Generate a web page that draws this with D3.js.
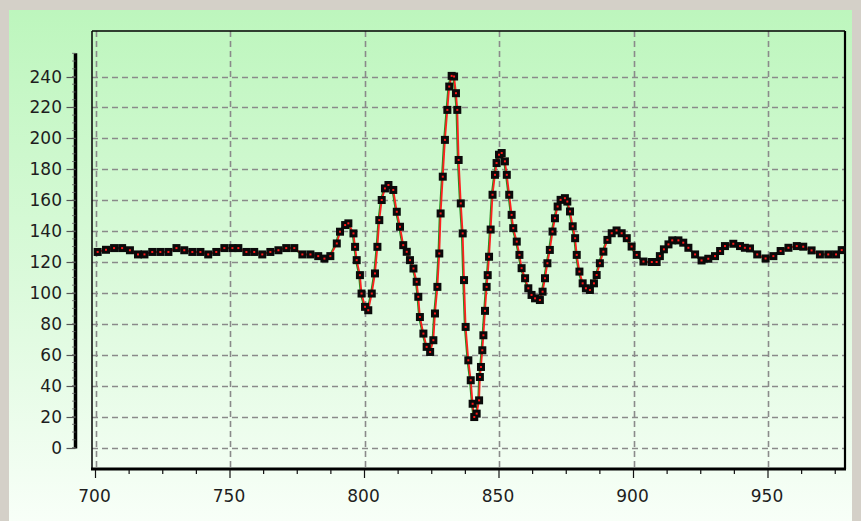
<!DOCTYPE html>
<html>
<head>
<meta charset="utf-8">
<script src="https://cdn.jsdelivr.net/npm/d3@7"></script>
<style>
  body { margin: 0; background: #d4d0c8; }
  svg { display: block; }
  .tick-label { font-family: "DejaVu Sans", Verdana, sans-serif; font-size: 17px; fill: #1e1e1e; }
</style>
</head>
<body>
<script>
(function () {

  // samples
  let xs = [
    700.8, 703.9, 706.9, 709.9, 712.8, 715.8, 718.2, 721.1, 724.1, 727.1,
    730.1, 733.0, 736.0, 739.0, 741.9, 744.9, 747.9, 750.9, 753.1, 756.1,
    759.0, 762.0, 765.0, 768.0, 770.9, 773.9, 776.9, 779.9, 782.8, 785.1,
    787.3, 789.7, 790.9, 792.8, 794.0, 795.9, 796.5, 797.1, 798.3, 798.9,
    800.2, 801.4, 802.7, 803.9, 804.8, 805.5, 806.4, 807.6, 808.9, 810.7,
    812.0, 813.2, 814.4, 815.7, 816.9, 818.2, 819.4, 820.0, 820.6, 821.9,
    823.1, 824.4, 825.6, 826.2, 827.1, 827.8, 828.3, 829.1, 829.9, 830.8,
    831.5, 832.4, 833.3, 834.0, 834.5, 835.0, 835.8, 836.5, 837.0, 837.6,
    838.6, 839.5, 840.2, 840.8, 841.7, 842.6, 842.9, 843.3, 843.8, 844.2,
    844.8, 845.4, 845.8, 846.3, 846.9, 847.6, 848.5, 849.1, 850.0, 851.0,
    852.2, 852.9, 853.8, 854.7, 855.3, 856.6, 857.6, 858.4, 859.7, 860.9,
    862.1, 863.4, 865.2, 866.2, 867.1, 868.0, 868.9, 869.9, 870.8, 871.8,
    872.9, 874.5, 875.4, 876.4, 877.4, 878.3, 878.9, 879.9, 881.1, 882.3,
    883.8, 885.3, 886.3, 887.5, 888.8, 890.3, 891.9, 893.7, 895.6, 897.5,
    899.3, 901.2, 903.7, 906.8, 908.6, 909.8, 911.3, 913.0, 914.4, 916.7,
    918.5, 920.4, 922.9, 925.3, 927.8, 930.3, 932.2, 934.0, 937.1, 939.6,
    941.4, 943.3, 946.0, 949.1, 952.0, 954.7, 957.6, 960.7, 963.1, 966.2,
    969.3, 972.4, 975.3, 977.4
  ];

  let ys = [
    126.5, 127.9, 129.0, 129.0, 127.6, 124.9, 124.9, 126.5, 126.5, 126.5,
    129.0, 127.6, 126.5, 126.5, 124.9, 126.5, 129.0, 129.0, 129.0, 126.5,
    126.5, 124.9, 126.5, 127.6, 129.0, 129.0, 124.9, 124.9, 123.8, 122.2,
    123.8, 132.0, 139.6, 143.9, 145.0, 138.5, 129.8, 121.2, 111.5, 99.6,
    91.0, 88.8, 99.6, 112.6, 129.8, 147.1, 160.1, 167.6, 169.8, 166.6,
    152.5, 142.8, 130.9, 126.6, 121.2, 115.8, 107.2, 97.5, 84.4, 73.7,
    65.1, 61.8, 69.4, 86.7, 103.9, 125.5, 151.4, 175.2, 199.0, 218.4,
    233.5, 240.4, 240.0, 229.2, 218.4, 186.0, 157.9, 138.5, 108.3, 78.0,
    56.4, 43.5, 28.3, 19.7, 21.9, 30.5, 45.6, 52.1, 62.9, 72.6,
    88.4, 103.9, 111.5, 123.4, 141.0, 163.5, 176.4, 184.0, 189.4, 190.5,
    185.1, 176.4, 163.5, 150.5, 141.9, 133.2, 124.6, 116.0, 109.5, 103.0,
    98.7, 96.5, 95.4, 100.8, 109.5, 119.2, 127.8, 139.7, 148.3, 155.9,
    160.2, 161.3, 159.1, 152.7, 143.1, 135.4, 124.6, 113.8, 106.2, 103.0,
    101.9, 106.2, 111.6, 119.2, 126.7, 134.3, 138.6, 140.4, 138.6, 135.4,
    130.0, 124.6, 120.3, 120.0, 120.0, 123.8, 128.2, 131.4, 134.0, 134.0,
    132.5, 129.2, 124.9, 121.0, 122.1, 123.8, 127.1, 130.3, 131.8, 130.3,
    129.2, 128.8, 124.9, 122.3, 123.8, 127.1, 129.2, 130.3, 129.9, 127.5,
    124.9, 124.9, 124.9, 127.7
  ];

  let xTicks = [700, 750, 800, 850, 900, 950];
  let xMinorTicks = d3.range(700, 976, 12.5);
  let yTicks = [0, 20, 40, 60, 80, 100, 120, 140, 160, 180, 200, 220, 240];
  let yMinorTicks = d3.range(0, 256, 5);
  let yBarMax = 255;

  function go() {

    let width  = 861;
    let height = 521;

    // plot frame in pixels
    let plot = { left: 92, top: 31, right: 845, bottom: 469 };

    let x = d3.scaleLinear().domain([700, 950]).range([95.5, 768]);
    let y = d3.scaleLinear().domain([0, 240]).range([447.5, 76.5]);

    let svg = d3.select('body').append('svg')
        .attr('width', width)
        .attr('height', height);

    let defs = svg.append('defs');
    let grad = defs.append('linearGradient')
        .attr('id', 'panel')
        .attr('x1', 0).attr('y1', 0)
        .attr('x2', 0).attr('y2', 1);
    grad.append('stop').attr('offset', '0%').attr('stop-color', '#bdf6bd');
    grad.append('stop').attr('offset', '55%').attr('stop-color', '#dcfadc');
    grad.append('stop').attr('offset', '100%').attr('stop-color', '#f8fff8');

    svg.append('rect')
      .attr('x', 9)
      .attr('y', 10)
      .attr('width', 843)
      .attr('height', height - 10)
      .attr('fill', 'url(#panel)');

    // grid
    let grid = svg.append('g')
        .attr('stroke', '#8a8a8a')
        .attr('stroke-width', 1.6)
        .attr('stroke-dasharray', '6,4');

    grid.selectAll('line.h').data(yTicks)
      .enter().append('line')
      .attr('class', 'h')
      .attr('x1', plot.left)
      .attr('x2', plot.right)
      .attr('y1', function (d) { return Math.round(y(d)) + 0.5; })
      .attr('y2', function (d) { return Math.round(y(d)) + 0.5; });

    grid.selectAll('line.v').data(xTicks)
      .enter().append('line')
      .attr('class', 'v')
      .attr('y1', plot.top)
      .attr('y2', plot.bottom)
      .attr('x1', function (d) { return Math.round(x(d)) + 0.5; })
      .attr('x2', function (d) { return Math.round(x(d)) + 0.5; });

    // frame
    svg.append('line')
      .attr('x1', plot.left).attr('x2', plot.right)
      .attr('y1', plot.top).attr('y2', plot.top)
      .attr('stroke', '#000').attr('stroke-width', 1.5);
    svg.append('line')
      .attr('x1', plot.left).attr('x2', plot.left)
      .attr('y1', plot.top).attr('y2', plot.bottom)
      .attr('stroke', '#000').attr('stroke-width', 1.5);
    svg.append('line')
      .attr('x1', plot.right).attr('x2', plot.right)
      .attr('y1', plot.top).attr('y2', plot.bottom)
      .attr('stroke', '#000').attr('stroke-width', 2.2);
    svg.append('line')
      .attr('x1', plot.left - 1).attr('x2', plot.right + 1)
      .attr('y1', plot.bottom).attr('y2', plot.bottom)
      .attr('stroke', '#000').attr('stroke-width', 3.2);

    // x axis ticks and labels
    svg.append('g').selectAll('line').data(xMinorTicks)
      .enter().append('line')
      .attr('x1', function (d) { return x(d); })
      .attr('x2', function (d) { return x(d); })
      .attr('y1', plot.bottom + 1)
      .attr('y2', function (d) { return xTicks.indexOf(d) >= 0 ? plot.bottom + 9 : plot.bottom + 5; })
      .attr('stroke', '#111')
      .attr('stroke-width', 1.2);

    svg.append('g').selectAll('text').data(xTicks)
      .enter().append('text')
      .attr('class', 'tick-label')
      .attr('x', function (d) { return x(d) - 1; })
      .attr('y', 502)
      .attr('text-anchor', 'middle')
      .text(function (d) { return d; });

    // y axis: separate bar left of the frame
    let barX = 75.5;
    svg.append('line')
      .attr('x1', barX).attr('x2', barX)
      .attr('y1', y(0) + 1).attr('y2', y(yBarMax))
      .attr('stroke', '#000')
      .attr('stroke-width', 3.5);

    svg.append('g').selectAll('line').data(yMinorTicks)
      .enter().append('line')
      .attr('x1', barX - 3.5)
      .attr('x2', barX)
      .attr('y1', function (d) { return y(d); })
      .attr('y2', function (d) { return y(d); })
      .attr('stroke', '#666')
      .attr('stroke-width', 0.8);

    svg.append('g').selectAll('line').data(yTicks)
      .enter().append('line')
      .attr('x1', barX - 9)
      .attr('x2', barX)
      .attr('y1', function (d) { return Math.round(y(d)) + 0.5; })
      .attr('y2', function (d) { return Math.round(y(d)) + 0.5; })
      .attr('stroke', '#555')
      .attr('stroke-width', 1.2);

    svg.append('g').selectAll('text').data(yTicks)
      .enter().append('text')
      .attr('class', 'tick-label')
      .attr('x', 62)
      .attr('y', function (d) { return y(d) + 6; })
      .attr('text-anchor', 'end')
      .text(function (d) { return d; });

    // series
    let pts = xs.map(function (v, i) { return [v, ys[i]]; });

    let line = d3.line()
        .x(function (d) { return x(d[0]); })
        .y(function (d) { return y(d[1]); });

    svg.append('path')
      .datum(pts)
      .attr('d', line)
      .attr('transform', 'translate(-1,0)')
      .attr('fill', 'none')
      .attr('stroke', '#1f8f1f')
      .attr('stroke-width', 1.6);

    svg.append('path')
      .datum(pts)
      .attr('d', line)
      .attr('fill', 'none')
      .attr('stroke', '#ff2020')
      .attr('stroke-width', 1.8);

    let marks = svg.append('g');

    let box = 8;
    marks.selectAll('rect.box').data(pts)
      .enter().append('rect')
      .attr('class', 'box')
      .attr('x', function (d) { return x(d[0]) - box / 2; })
      .attr('y', function (d) { return y(d[1]) - box / 2; })
      .attr('width', box)
      .attr('height', box)
      .attr('fill', '#0a0a0a');

    marks.selectAll('rect.dot').data(pts)
      .enter().append('rect')
      .attr('class', 'dot')
      .attr('x', function (d) { return x(d[0]) - 1; })
      .attr('y', function (d) { return y(d[1]) - 1; })
      .attr('width', 2)
      .attr('height', 2)
      .attr('fill', '#ff1a1a');
  }

  document.addEventListener('DOMContentLoaded', go);

})();
</script>
</body>
</html>
